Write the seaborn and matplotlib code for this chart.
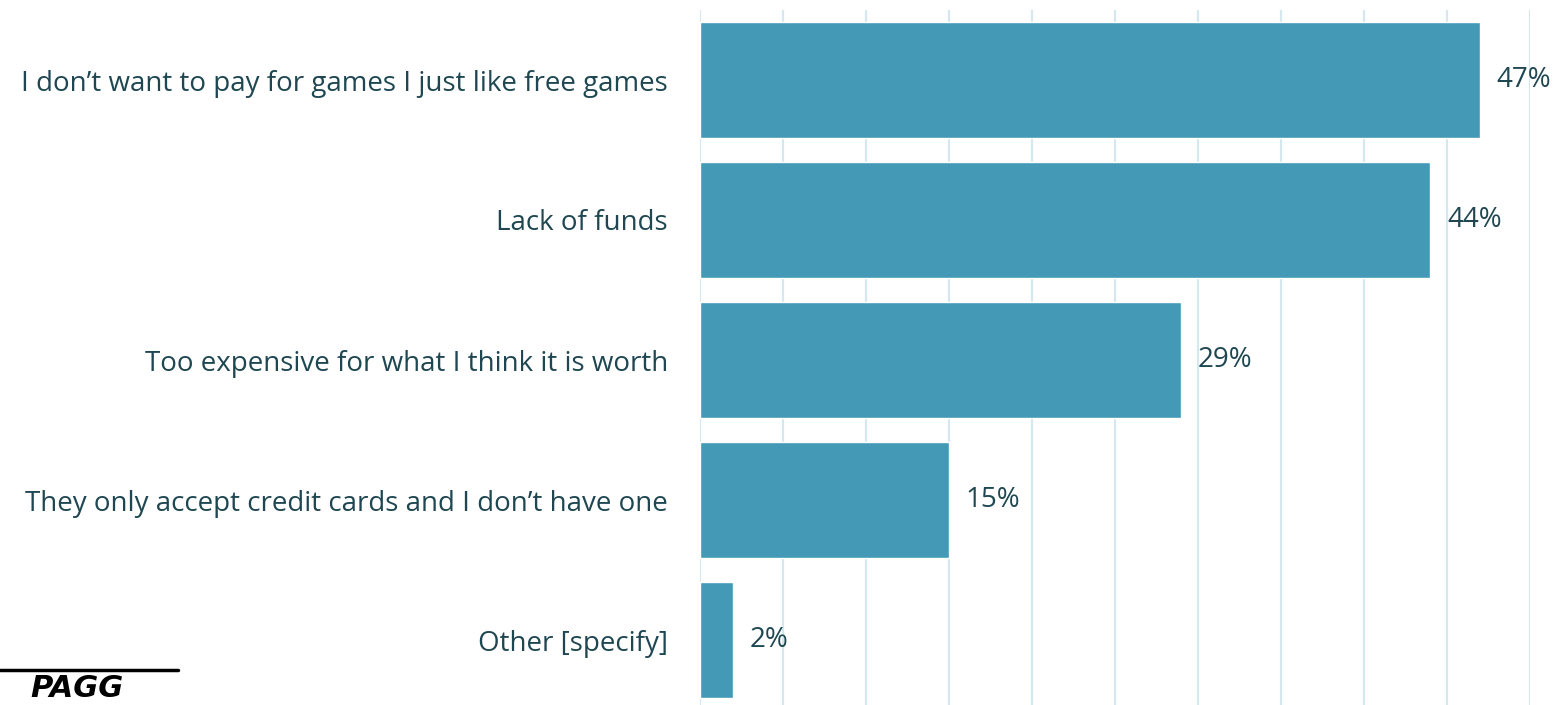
import matplotlib
matplotlib.use("Agg")
import matplotlib.pyplot as plt
import seaborn as sns
import pandas as pd

reasons = [
    "I don\u2019t want to pay for games I just like free games",
    "Lack of funds",
    "Too expensive for what I think it is worth",
    "They only accept credit cards and I don\u2019t have one",
    "Other [specify]",
]
shares = [47, 44, 29, 15, 2]

BAR = "#4499b7"
TEXT = "#1f4752"
GRID = "#d5e8f0"

sns.set_theme(style="white")
plt.rcParams["font.family"] = ["Open Sans", "DejaVu Sans"]

df = pd.DataFrame({"reason": reasons, "share": shares})

W, H = 1558, 705
fig = plt.figure(figsize=(W / 100, H / 100), dpi=100)
ax = fig.add_axes([700 / W, -5 / H, 830 / W, 700 / H])

sns.barplot(data=df, x="share", y="reason", color=BAR, width=0.83,
            saturation=1, ax=ax, zorder=2)

ax.set_xlim(0, 50)
ax.set_ylim(4.5, -0.5)
ax.set_xticks(range(0, 51, 5))
ax.xaxis.grid(True, color=GRID, linewidth=1.6, zorder=0)
ax.set_axisbelow(True)
ax.tick_params(axis="x", bottom=False, labelbottom=False)
ax.tick_params(axis="y", left=False, pad=17, labelsize=20, labelcolor=TEXT)
ax.set_xlabel("")
ax.set_ylabel("")
for s in ax.spines.values():
    s.set_visible(False)

for i, v in enumerate(shares):
    ax.annotate(f"{v}%", (v, i), xytext=(12, 0), textcoords="offset points",
                ha="left", va="center", fontsize=20, color=TEXT)

# brand mark in the lower-left corner
fig.add_artist(plt.Line2D([0, 178 / W], [1 - 670 / H, 1 - 670 / H],
                          color="black", linewidth=2.5))
fig.text(30 / W, 2 / H, "PAGG", fontsize=22, fontweight="black",
         fontstyle="italic", color="black", ha="left", va="bottom",
         family=["DejaVu Sans"])

fig.savefig("out.png", dpi=100)
